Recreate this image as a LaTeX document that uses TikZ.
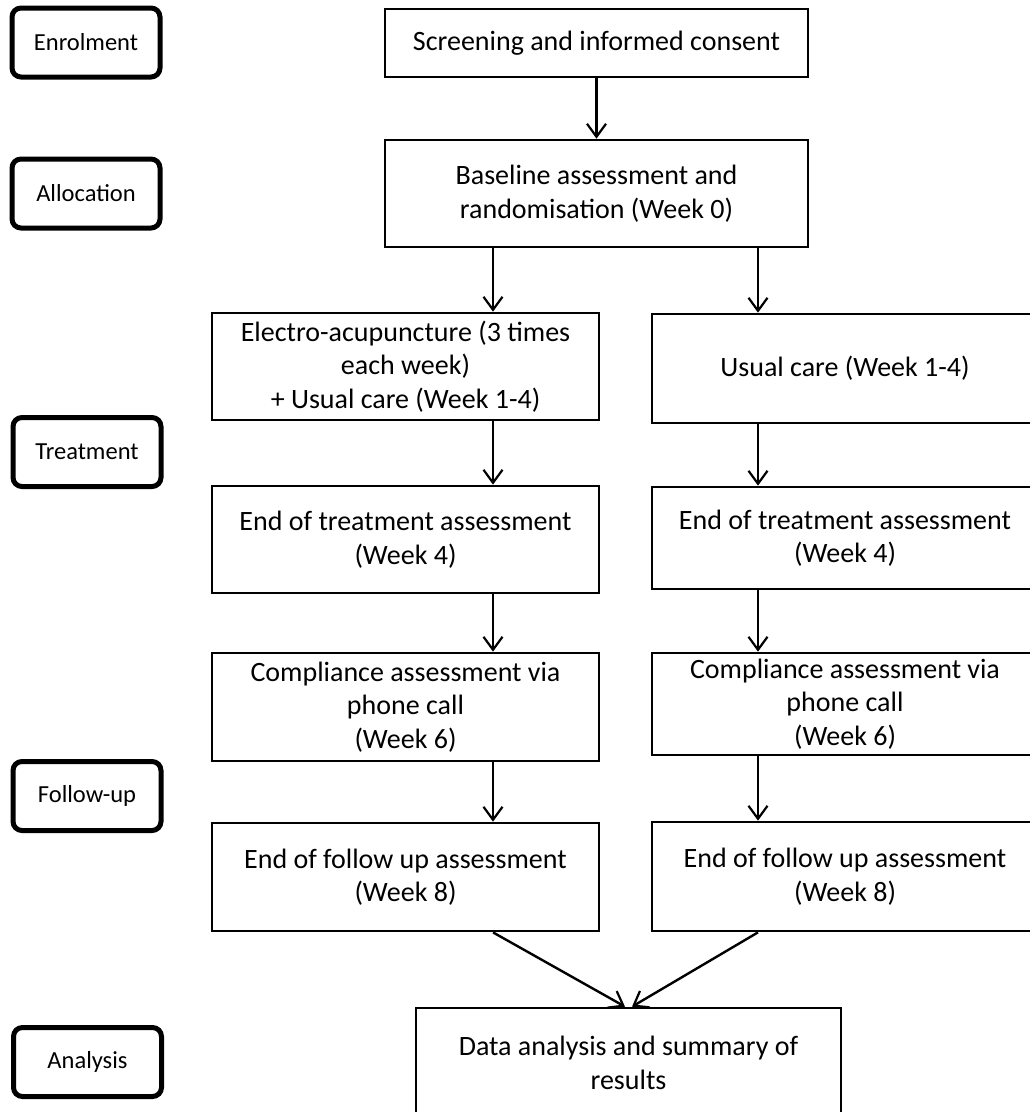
\documentclass[tikz,border=0pt]{standalone}
\usepackage{fontspec}
\setmainfont{Carlito}
\usetikzlibrary{arrows.meta}
\begin{document}
\begin{tikzpicture}[x=1pt,y=-1pt,
  box/.style={draw, line width=2.7pt, minimum width=387pt, align=center, inner sep=0pt,
    font=\fontsize{28}{33.5}\selectfont},
  stage/.style={draw, line width=5pt, rounded corners=9pt, minimum width=148pt,
    minimum height=69pt, inner sep=0pt, font=\fontsize{24.5}{29}\selectfont},
  arr/.style={line width=2.4pt, -{Straight Barb[length=13pt,width=19pt,line width=2.2pt]}}]
\useasboundingbox (0,0) rectangle (1030,1112);
\clip (0,0) rectangle (1030,1112);
\fill[white] (0,0) rectangle (1030,1112);

% stage labels
\node[stage] (enr) at (86,42.5) {Enrolment};
\node[stage] (alloc) at (86,193.5) {Allocation};
\node[stage] (treat) at (87,452) {Treatment};
\node[stage] (follow) at (87,796) {Follow-up};
\node[stage] (anal) at (87.5,1062) {Analysis};

% main boxes
\node[box, minimum width=423pt, minimum height=68pt] (scr) at (596.5,43) {Screening and informed consent};
\node[box, minimum width=423pt, minimum height=107pt] (base) at (596.5,193.5) {Baseline assessment and\\randomisation (Week 0)};

\node[box, minimum height=107pt] (ea) at (405.5,366.5) {Electro-acupuncture (3 times\\each week)\\+ Usual care (Week 1-4)};
\node[box, minimum width=386pt, minimum height=109pt] (uc) at (845,368.5) {Usual care (Week 1-4)};

\node[box, minimum height=107pt] (etL) at (405.5,539.5) {End of treatment assessment\\(Week 4)};
\node[box, minimum width=386pt, minimum height=102pt] (etR) at (845,538) {End of treatment assessment\\(Week 4)};

\node[box, minimum height=108pt] (cpL) at (405.5,707) {Compliance assessment via\\phone call\\(Week 6)};
\node[box, minimum width=386pt, minimum height=102pt] (cpR) at (845,704) {Compliance assessment via\\phone call\\(Week 6)};

\node[box, minimum height=108pt] (fuL) at (405.5,877) {End of follow up assessment\\(Week 8)};
\node[box, minimum width=386pt, minimum height=109pt] (fuR) at (845,876.5) {End of follow up assessment\\(Week 8)};

\node[box, minimum width=425pt, minimum height=110pt] (data) at (628.5,1063) {Data analysis and summary of\\results};

% connector columns
\coordinate (colL) at (493,0);
\coordinate (colR) at (758,0);
\coordinate (tipL) at (625,0);
\coordinate (tipR) at (632,0);

\draw[arr] (scr) -- (base);
\draw[arr] (base.south -| colL) -- (ea.north -| colL);
\draw[arr] (base.south -| colR) -- (uc.north -| colR);
\draw[arr] (ea.south -| colL) -- (etL.north -| colL);
\draw[arr] (uc.south -| colR) -- (etR.north -| colR);
\draw[arr] (etL.south -| colL) -- (cpL.north -| colL);
\draw[arr] (etR.south -| colR) -- (cpR.north -| colR);
\draw[arr] (cpL.south -| colL) -- (fuL.north -| colL);
\draw[arr] (cpR.south -| colR) -- (fuR.north -| colR);
\draw[arr] (fuL.south -| colL) -- (data.north -| tipL);
\draw[arr] (fuR.south -| colR) -- (data.north -| tipR);
\end{tikzpicture}
\end{document}
